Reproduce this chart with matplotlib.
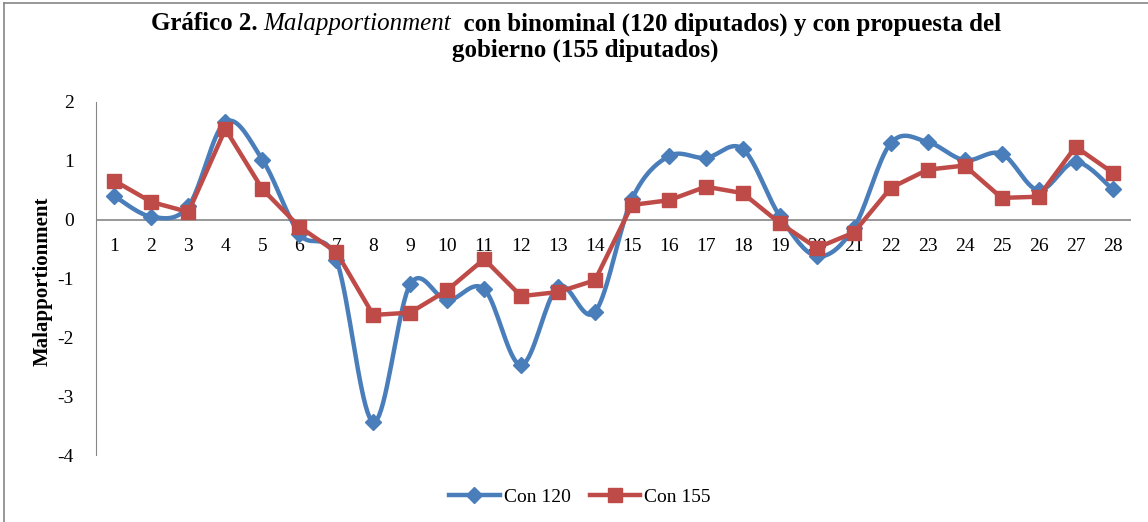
import numpy as np
import matplotlib
matplotlib.use("Agg")
import matplotlib.pyplot as plt
from matplotlib.lines import Line2D

categories = list(range(1, 29))
con_120 = [0.40, 0.05, 0.23, 1.66, 1.02, -0.24, -0.68, -3.44, -1.10, -1.37,
           -1.18, -2.47, -1.14, -1.57, 0.35, 1.08, 1.05, 1.20, 0.06, -0.62,
           -0.14, 1.30, 1.32, 1.01, 1.12, 0.50, 0.98, 0.52]
con_155 = [0.66, 0.30, 0.13, 1.54, 0.52, -0.12, -0.55, -1.62, -1.58, -1.20,
           -0.67, -1.30, -1.23, -1.03, 0.25, 0.33, 0.56, 0.45, -0.06, -0.48,
           -0.22, 0.54, 0.85, 0.92, 0.37, 0.39, 1.24, 0.80]
yticks = [-4, -3, -2, -1, 0, 1, 2]

BLUE = "#4A7EBB"
RED = "#BE4B48"


def smooth(x, y, n=20, t=1/6):
    x = np.asarray(x, float); y = np.asarray(y, float)
    xs, ys = [], []
    m = len(x)
    for i in range(m - 1):
        p0 = (x[i - 1], y[i - 1]) if i > 0 else (x[i], y[i])
        p1 = (x[i], y[i]); p2 = (x[i + 1], y[i + 1])
        p3 = (x[i + 2], y[i + 2]) if i + 2 < m else (x[i + 1], y[i + 1])
        c1 = (p1[0] + (p2[0] - p0[0]) * t, p1[1] + (p2[1] - p0[1]) * t)
        c2 = (p2[0] - (p3[0] - p1[0]) * t, p2[1] - (p3[1] - p1[1]) * t)
        s = np.linspace(0, 1, n)
        bx = (1-s)**3*p1[0] + 3*(1-s)**2*s*c1[0] + 3*(1-s)*s**2*c2[0] + s**3*p2[0]
        by = (1-s)**3*p1[1] + 3*(1-s)**2*s*c1[1] + 3*(1-s)*s**2*c2[1] + s**3*p2[1]
        xs.extend(bx); ys.extend(by)
    return np.array(xs), np.array(ys)


plt.rcParams['font.family'] = ['Liberation Serif', 'DejaVu Serif']
fig = plt.figure(figsize=(11.48, 5.22), dpi=100)
ax = fig.add_axes([96/1148, 1 - 455/522, (1131-96)/1148, (455-102)/522])

x = np.array(categories)
sx, sy = smooth(x, con_120)
ax.plot(sx, sy, color=BLUE, lw=3.2, zorder=3, solid_capstyle='round')
ax.plot(x, con_120, ls='none', marker='D', ms=8, color=BLUE, zorder=4)
ax.plot(x, con_155, color=RED, lw=3.2, marker='s', ms=10, zorder=5)

ax.set_xlim(0.5, 28.5)
ax.set_ylim(-4, 2)
ax.set_yticks(yticks)
ax.set_yticklabels([str(v) for v in yticks], fontsize=14)
ax.tick_params(axis='y', length=0, pad=16)
ax.set_xticks([])
for s in ['top', 'right', 'bottom']:
    ax.spines[s].set_visible(False)
ax.spines['left'].set_color('#868686')
ax.axhline(0, color='#868686', lw=1.2, zorder=1)
for c in categories:
    ax.text(c, -0.45, str(c), ha='center', va='center', fontsize=14, zorder=2)

fig.text(43/1148, 1 - 281/522, 'Malapportionment', rotation=90, ha='center', va='center',
         fontsize=15, fontweight='bold')

# Title, built from three pieces so the italic word uses the same serif family
y1 = 1 - 24/522
t_parts = [('Gráfico 2. ', 'bold', 'normal'), ('Malapportionment', 'normal', 'italic'),
           ('  con binominal (120 diputados) y con propuesta del', 'bold', 'normal')]
fig.canvas.draw()
renderer = fig.canvas.get_renderer()
texts = []
for s_, wt, st in t_parts:
    tt = fig.text(0, y1, s_, ha='left', va='center', fontsize=18, fontweight=wt, style=st)
    texts.append(tt)
widths = [tt.get_window_extent(renderer).width for tt in texts]
total = sum(widths)
x0 = 576 - total / 2
for tt, w in zip(texts, widths):
    tt.set_x(x0 / 1148)
    x0 += w
fig.text(585/1148, 1 - 50/522, 'gobierno (155 diputados)',
         ha='center', va='center', fontsize=18, fontweight='bold')

handles = [Line2D([0], [0], color=BLUE, lw=3.2, marker='D', ms=8),
           Line2D([0], [0], color=RED, lw=3.2, marker='s', ms=10)]
fig.legend(handles, ['Con 120', 'Con 155'], loc='center', bbox_to_anchor=(580/1148, 1 - 497/522),
           ncol=2, frameon=False, fontsize=14, handlelength=2.6, columnspacing=1.0, handletextpad=0.2)

fig.add_artist(Line2D([4/1148, 4/1148], [0, 1 - 3/522], color='#868686', lw=1.2, transform=fig.transFigure))
fig.add_artist(Line2D([4/1148, 1], [1 - 3/522, 1 - 3/522], color='#868686', lw=1.2, transform=fig.transFigure))

fig.savefig('out.png', dpi=100)
